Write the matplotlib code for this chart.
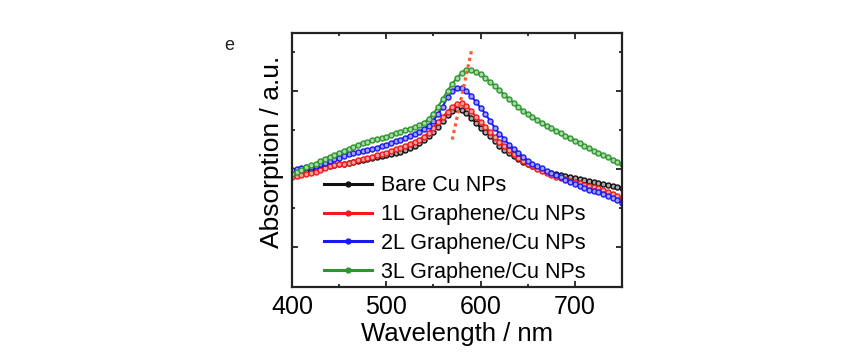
import matplotlib
matplotlib.use("Agg")
import matplotlib.pyplot as plt
from matplotlib.ticker import FixedLocator, MultipleLocator

plt.rcParams['font.family'] = ['Liberation Sans', 'DejaVu Sans']

# wavelength grid (nm)
wavelength = list(range(400, 755, 5))

# absorption (a.u.)
bare_cu = [112, 113, 114, 115, 116, 117, 118, 120, 121, 122,
           123, 124, 125, 126, 127, 128, 129, 130, 131, 132,
           133, 134, 135, 136, 138, 140, 142, 145, 148, 152,
           156, 161, 167, 173, 177, 179, 178, 175, 170, 165,
           160, 156, 152, 147, 142, 138, 135, 132, 129, 126,
           123, 121, 119, 117, 115, 114, 113, 112, 111, 110,
           109, 108, 107, 106, 105, 104, 103, 102, 101, 100, 99]
graphene_1l = [110, 111, 112, 113, 114, 115, 117, 119, 121, 122,
               123, 124, 125, 126, 128, 129, 130, 131, 133, 134,
               135, 137, 139, 140, 142, 144, 146, 148, 151, 155,
               160, 166, 171, 176, 181, 184, 185, 182, 177, 171,
               166, 161, 156, 151, 146, 142, 138, 134, 130, 127,
               124, 121, 118, 116, 114, 112, 110, 109, 108, 106,
               105, 104, 102, 101, 100, 99, 97, 95, 93, 91, 89]
graphene_2l = [117, 118, 119, 120, 120, 121, 123, 125, 127, 129,
               130, 132, 134, 135, 136, 137, 138, 139, 140, 142,
               143, 145, 147, 148, 150, 152, 154, 156, 159, 162,
               167, 174, 181, 191, 197, 200, 200, 197, 192, 186,
               180, 174, 167, 160, 154, 149, 143, 139, 135, 131,
               127, 124, 121, 119, 116, 114, 112, 110, 107, 105,
               103, 101, 99, 97, 96, 95, 93, 91, 89, 87, 84]
graphene_3l = [113, 115, 117, 120, 122, 124, 127, 129, 131, 133,
               135, 137, 139, 141, 143, 145, 146, 148, 149, 150,
               151, 153, 155, 156, 158, 159, 161, 163, 165, 169,
               174, 181, 189, 197, 204, 210, 215, 218, 218, 216,
               214, 210, 206, 202, 198, 193, 189, 185, 181, 177,
               174, 171, 168, 165, 162, 160, 157, 155, 152, 150,
               147, 145, 142, 140, 137, 135, 133, 131, 128, 126, 123]

series_labels = ["Bare Cu NPs", "1L Graphene/Cu NPs",
                 "2L Graphene/Cu NPs", "3L Graphene/Cu NPs"]
series_values = [bare_cu, graphene_1l, graphene_2l, graphene_3l]
series_colors = ["#111111", "#f21a1a", "#1a1af0", "#2e962e"]
marker_fill = ["#a8a8a8", "#f8a0a0", "#a0a0f8", "#a8d8a8"]

# peak-shift guide line
shift_x = [570, 591]
shift_y = [148, 240]

fig = plt.figure(figsize=(8.5, 3.55), dpi=100)
ax = fig.add_axes([0.3435, 0.1915, 0.3882, 0.7155])

for vals, lab, col, mf in zip(series_values, series_labels, series_colors, marker_fill):
    ax.plot(wavelength, vals, color=col, lw=1.5, marker='o', ms=3.6,
            mfc=mf, mec=col, mew=1.0, label=lab)

ax.plot(shift_x, shift_y, color='#ff5a36', lw=2.3, linestyle=(0, (1, 1.1)),
        solid_capstyle='butt', dash_capstyle='butt')

ax.set_xlim(400, 750)
ax.set_ylim(0, 255)
ax.xaxis.set_major_locator(MultipleLocator(100))
ax.xaxis.set_minor_locator(MultipleLocator(50))
ax.yaxis.set_major_locator(FixedLocator([40, 118.4, 196.8]))
ax.yaxis.set_minor_locator(FixedLocator([79.2, 157.6, 236]))
ax.set_yticklabels([])

ax.tick_params(which='both', direction='in', top=True, right=True,
               width=1.3, color='#222222')
ax.tick_params(which='major', length=4, labelsize=18, pad=6)
ax.tick_params(which='minor', length=2.5)
for s in ax.spines.values():
    s.set_linewidth(1.6)
    s.set_color('#222222')

ax.set_xlabel("Wavelength / nm", fontsize=18.5, labelpad=2)
fig.text(272 / 850, 1 - 152 / 355, "Absorption / a.u.", rotation=90,
         fontsize=19, ha='center', va='center')
fig.text(229 / 850, 1 - 45 / 355, "e", fontsize=13, ha='center',
         va='center', color='#222222')

leg = ax.legend(loc='lower left', bbox_to_anchor=(0.085, 0.0),
                frameon=False, fontsize=15.5, handlelength=2.2,
                handletextpad=0.45, labelspacing=0.36, borderpad=0.2,
                borderaxespad=0.0)
for h in leg.legend_handles:
    h.set_linewidth(2.2)
    h.set_markersize(3.5)
    h.set_markerfacecolor(h.get_color())

fig.savefig("out.png", dpi=100)
